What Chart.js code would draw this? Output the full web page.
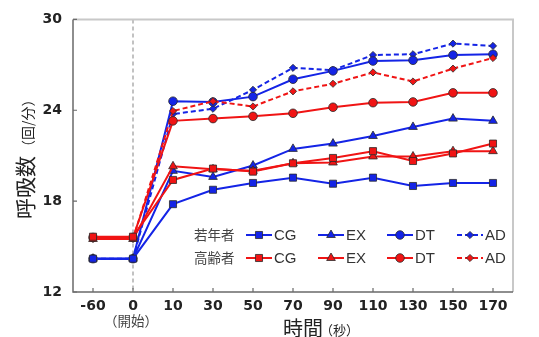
<!DOCTYPE html>
<html>
<head>
<meta charset="utf-8">
<script src="https://cdn.jsdelivr.net/npm/chart.js@4.4.1/dist/chart.umd.min.js"></script>
<style>
  html, body { margin: 0; padding: 0; background: #fff; }
  #wrap { width: 539px; height: 337px; position: relative; }
</style>
</head>
<body>
<div id="wrap"><canvas id="chart"></canvas></div>
<script>
// time points (seconds)
const timeLabels = ["-60", "0", "10", "30", "50", "70", "90", "110", "130", "150", "170"];
const yTicks = [12, 18, 24, 30];

// young (若年者)
const youngCG = [14.2, 14.2, 17.8, 18.75, 19.2, 19.55, 19.15, 19.55, 19.0, 19.2, 19.2];
const youngEX = [14.2, 14.2, 20.0, 19.6, 20.35, 21.45, 21.8, 22.3, 22.9, 23.45, 23.3];
const youngDT = [14.2, 14.2, 24.6, 24.55, 24.9, 26.05, 26.6, 27.25, 27.3, 27.65, 27.7];
const youngAD = [14.2, 14.2, 23.75, 24.1, 25.35, 26.8, 26.65, 27.65, 27.7, 28.4, 28.25];

// elderly (高齢者)
const elderCG = [15.65, 15.65, 19.4, 20.15, 19.95, 20.5, 20.85, 21.3, 20.65, 21.15, 21.8];
const elderEX = [15.5, 15.5, 20.3, 20.1, 20.0, 20.5, 20.55, 20.95, 20.95, 21.3, 21.3];
const elderDT = [15.6, 15.6, 23.3, 23.45, 23.6, 23.8, 24.2, 24.5, 24.55, 25.15, 25.15];
const elderAD = [15.5, 15.5, 23.95, 24.6, 24.25, 25.25, 25.75, 26.5, 25.9, 26.75, 27.45];

const groupNames = ["若年者", "高齢者"];
const condNames = ["CG", "EX", "DT", "AD"];

const BLUE = "#1424e6";
const RED = "#f01414";

const styles = {
  CG: { pointStyle: "rect", pointRadius: 5 },
  EX: { pointStyle: "triangle", pointRadius: 5 },
  DT: { pointStyle: "circle", pointRadius: 4.3 },
  AD: { pointStyle: "rectRot", pointRadius: 3.6, borderDash: [5, 3] },
};

function makeSet(label, data, color, cond) {
  const s = styles[cond];
  return {
    label,
    data,
    borderColor: color,
    backgroundColor: color,
    pointBackgroundColor: color,
    pointBorderColor: "#2a2a2a",
    pointBorderWidth: 0.8,
    borderWidth: 2,
    borderDash: s.borderDash || [],
    pointStyle: s.pointStyle,
    pointRadius: s.pointRadius,
    tension: 0,
    group: label.split(" ")[0],
    cond,
  };
}

const datasets = [
  makeSet("高齢者 CG", elderCG, RED, "CG"),
  makeSet("高齢者 EX", elderEX, RED, "EX"),
  makeSet("高齢者 DT", elderDT, RED, "DT"),
  makeSet("高齢者 AD", elderAD, RED, "AD"),
  makeSet("若年者 CG", youngCG, BLUE, "CG"),
  makeSet("若年者 EX", youngEX, BLUE, "EX"),
  makeSet("若年者 DT", youngDT, BLUE, "DT"),
  makeSet("若年者 AD", youngAD, BLUE, "AD"),
];

const CJK = '"Noto Sans CJK JP", "Noto Sans", sans-serif';

// frame, start marker, inner ticks
const framePlugin = {
  id: "frame",
  beforeDatasetsDraw(chart) {
    const { ctx, chartArea: a, scales: { x, y } } = chart;
    ctx.save();
    // dashed line at t=0
    const x0 = x.getPixelForValue(1);
    ctx.strokeStyle = "#9a9a9a";
    ctx.lineWidth = 1.2;
    ctx.setLineDash([4, 3]);
    ctx.beginPath();
    ctx.moveTo(x0, a.top);
    ctx.lineTo(x0, a.bottom);
    ctx.stroke();
    ctx.setLineDash([]);
    // top/right border
    ctx.strokeStyle = "#c8c8c8";
    ctx.lineWidth = 2;
    ctx.beginPath();
    ctx.moveTo(a.left, a.top);
    ctx.lineTo(a.right, a.top);
    ctx.lineTo(a.right, a.bottom);
    ctx.stroke();
    // left/bottom axes
    ctx.strokeStyle = "#6a6a6a";
    ctx.lineWidth = 1.5;
    ctx.beginPath();
    ctx.moveTo(a.left, a.top);
    ctx.lineTo(a.left, a.bottom);
    ctx.lineTo(a.right, a.bottom);
    ctx.stroke();
    // inner tick marks
    ctx.lineWidth = 1.2;
    ctx.beginPath();
    timeLabels.forEach((_, i) => {
      const px = x.getPixelForValue(i);
      ctx.moveTo(px, a.bottom);
      ctx.lineTo(px, a.bottom - 4);
    });
    yTicks.forEach((v) => {
      const py = y.getPixelForValue(v);
      ctx.moveTo(a.left, py);
      ctx.lineTo(a.left + 4, py);
    });
    ctx.stroke();
    ctx.restore();
  },
  afterDraw(chart) {
    const { ctx, scales: { x } } = chart;
    ctx.save();
    // "(開始)" under 0
    ctx.fillStyle = "#444";
    ctx.font = "13.5px " + CJK;
    ctx.textAlign = "center";
    ctx.textBaseline = "middle";
    ctx.fillText("（開始）", x.getPixelForValue(1) - 2, 321);

    // x title
    ctx.fillStyle = "#222";
    ctx.textAlign = "left";
    ctx.textBaseline = "alphabetic";
    ctx.font = "20px " + CJK;
    const xt = "時間";
    ctx.fillText(xt, 283, 336);
    const w1 = ctx.measureText(xt).width;
    ctx.font = "13px " + CJK;
    ctx.fillText("（秒）", 280 + w1, 335);

    // y title
    ctx.translate(33, 219);
    ctx.rotate(-Math.PI / 2);
    ctx.font = "21px " + CJK;
    ctx.fillText("呼吸数", 0, 0);
    const w2 = ctx.measureText("呼吸数").width;
    ctx.font = "14px " + CJK;
    ctx.fillText("（回/分）", w2 + 2, 0);
    ctx.restore();

    // legend in two rows
    ctx.save();
    const rowsY = [235, 258];
    const lineStart = [246, 318, 387, 457];
    const lineLen = 26;
    groupNames.forEach((g, r) => {
      const yy = rowsY[r];
      ctx.fillStyle = "#444";
      ctx.font = "13.5px " + CJK;
      ctx.textAlign = "left";
      ctx.textBaseline = "middle";
      ctx.fillText(g, 194, yy);
      condNames.forEach((c, k) => {
        const ds = chart.data.datasets.find((d) => d.group === g && d.cond === c);
        const x1 = lineStart[k];
        ctx.strokeStyle = ds.borderColor;
        ctx.lineWidth = 2;
        ctx.setLineDash(ds.borderDash);
        ctx.beginPath();
        ctx.moveTo(x1, yy);
        ctx.lineTo(x1 + lineLen, yy);
        ctx.stroke();
        ctx.setLineDash([]);
        ctx.fillStyle = ds.pointBackgroundColor;
        ctx.strokeStyle = ds.pointBorderColor;
        ctx.lineWidth = ds.pointBorderWidth;
        Chart.helpers.drawPoint(ctx, {
          pointStyle: ds.pointStyle,
          radius: ds.pointRadius,
          rotation: 0,
          borderWidth: ds.pointBorderWidth,
        }, x1 + lineLen / 2, yy);
        ctx.fillStyle = "#333";
        ctx.font = '15px "Liberation Sans", Arial, sans-serif';
        ctx.fillText(c, x1 + lineLen + 2, yy + 1);
      });
    });
    ctx.restore();
  },
};

new Chart(document.getElementById("chart"), {
  type: "line",
  data: { labels: timeLabels, datasets },
  options: {
    responsive: true,
    maintainAspectRatio: false,
    animation: false,
    devicePixelRatio: 1,
    layout: { padding: { top: 19, right: 26, left: 0, bottom: 0 } },
    plugins: { legend: { display: false }, tooltip: { enabled: false } },
    scales: {
      x: {
        offset: true,
        grid: { display: false, drawTicks: false },
        border: { display: false },
        ticks: {
          color: "#222",
          padding: 6,
          maxRotation: 0,
          autoSkip: false,
          font: { family: '"DejaVu Sans", sans-serif', size: 14, weight: "bold" },
        },
        afterFit: (s) => { s.height = 45; },
      },
      y: {
        min: 12,
        max: 30,
        afterBuildTicks: (s) => { s.ticks = yTicks.map((v) => ({ value: v })); },
        grid: { display: false, drawTicks: false },
        border: { display: false },
        ticks: {
          color: "#222",
          padding: 11,
          font: { family: '"DejaVu Sans", sans-serif', size: 14, weight: "bold" },
        },
        afterFit: (s) => { s.width = 73; },
      },
    },
  },
  plugins: [framePlugin],
});
</script>
</body>
</html>
